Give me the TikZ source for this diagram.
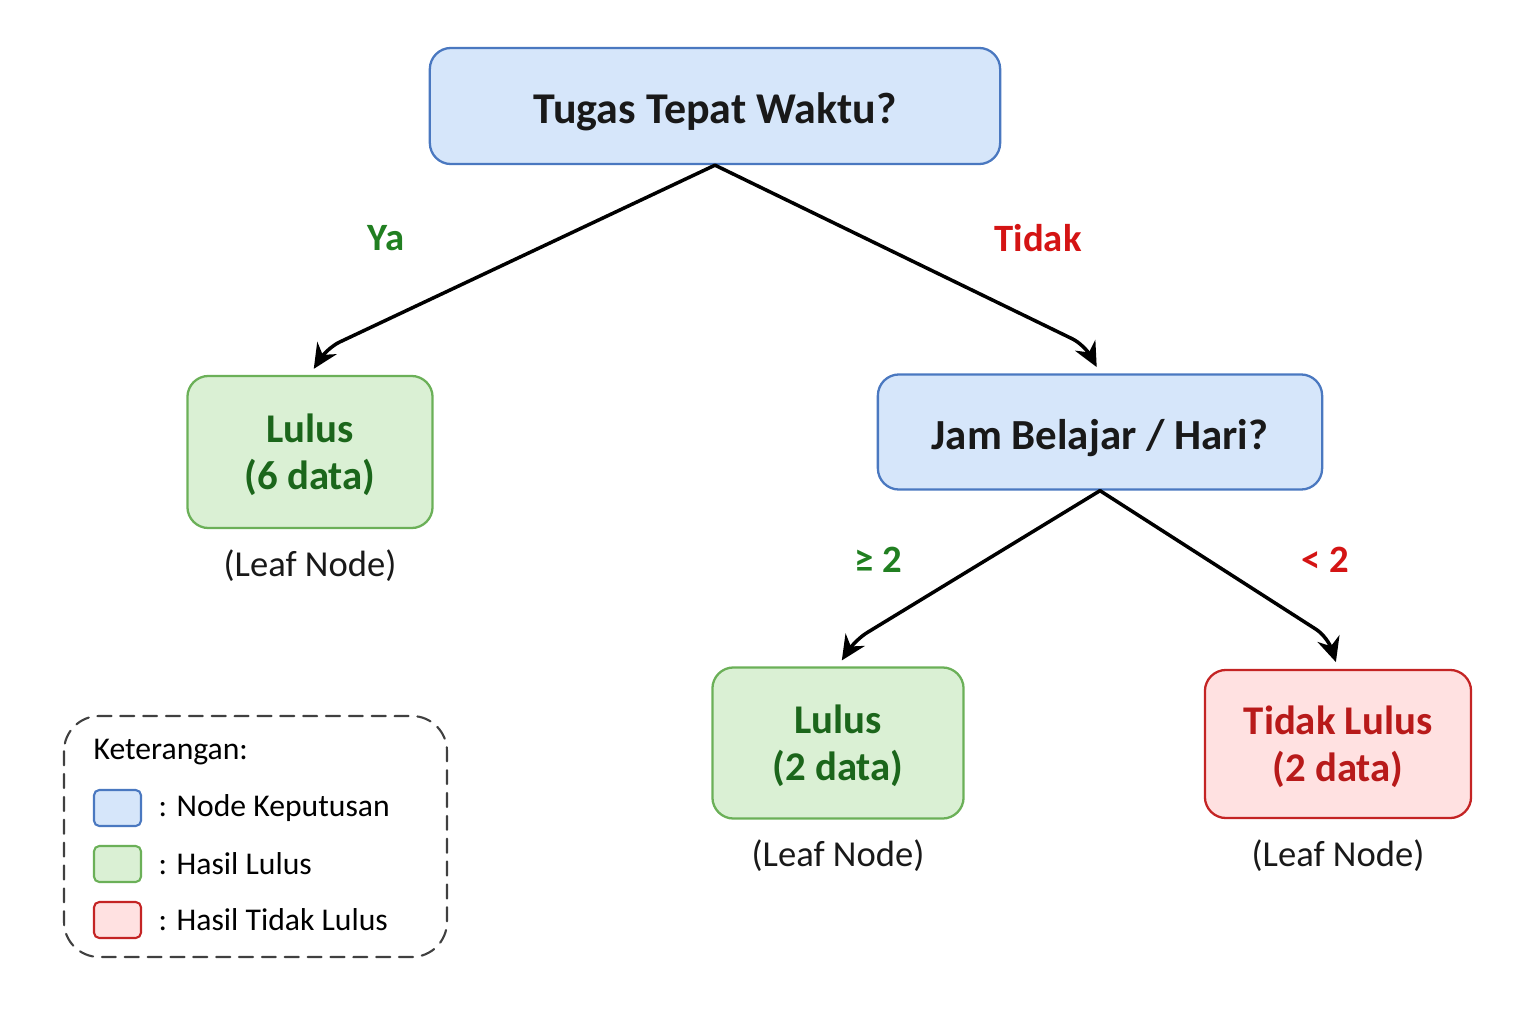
\documentclass[tikz,border=0pt]{standalone}
\usepackage{fontspec}
\setmainfont{Carlito}
\usetikzlibrary{arrows.meta}
\definecolor{blueF}{HTML}{D6E6FA}
\definecolor{blueD}{HTML}{4A78C0}
\definecolor{greenF}{HTML}{DAF0D4}
\definecolor{greenD}{HTML}{6BB058}
\definecolor{redF}{HTML}{FFE1E1}
\definecolor{redD}{HTML}{C42424}
\definecolor{greenT}{HTML}{1B661B}
\definecolor{redT}{HTML}{B81A1A}
\definecolor{yaC}{HTML}{217F21}
\definecolor{tidakC}{HTML}{D41414}
\tikzset{
  box/.style={rounded corners=6pt, line width=0.65pt, align=center, inner sep=0pt},
  decide/.style={box, fill=blueF, draw=blueD, font=\bfseries\fontsize{12.5}{14}\selectfont, text=black!90,
    execute at begin node={\rule{0pt}{12.2pt}}},
  pass/.style={box, fill=greenF, draw=greenD, text=greenT, font=\bfseries\fontsize{11.6}{13.4}\selectfont,
    text depth=0pt},
  fail/.style={pass, fill=redF, draw=redD, text=redT},
  leaf/.style={font=\fontsize{10.4}{12}\selectfont, text=black!90},
  branch/.style={font=\bfseries\fontsize{11}{13}\selectfont},
  edge/.style={->, line width=1pt, rounded corners=4pt, shorten >=2pt}
}
\begin{document}
\begin{tikzpicture}[x=0.01cm, y=-0.01cm, >={Stealth[length=7pt,width=6.5pt]}, line join=round, line cap=round]
  \useasboundingbox (0,0) rectangle (1536,1024);
  % tree
  \node[decide, minimum width=5.7cm, minimum height=1.16cm] (tugas) at (715,106) {Tugas Tepat Waktu?};
  \node[pass, minimum width=2.45cm, minimum height=1.52cm] (lulusA) at (310,452) {Lulus\\(6 data)};
  \node[decide, minimum width=4.44cm, minimum height=1.15cm, font=\bfseries\fontsize{12.2}{14}\selectfont] (jam) at (1100,432) {Jam Belajar / Hari?};
  \node[pass, minimum width=2.51cm, minimum height=1.51cm] (lulusB) at (838,743) {Lulus\\(2 data)};
  \node[fail, minimum width=2.66cm, minimum height=1.48cm] (tidak) at (1338,744) {Tidak Lulus\\(2 data)};
  \node[leaf] (leafA) at (310,566) {(Leaf Node)};
  \node[leaf] (leafB) at (838,856) {(Leaf Node)};
  \node[leaf] (leafC) at (1338,856) {(Leaf Node)};
  \draw[edge] (tugas.south) -- (327,348) -- (lulusA.north);
  \draw[edge] (tugas.south) -- (1085,345) -- (jam.north);
  \draw[edge] (jam.south) -- (855,640) -- (lulusB.north);
  \draw[edge] (jam.south) -- (1328,637) -- (tidak.north);
  \node[branch, text=yaC] (ya) at (386,238) {Ya};
  \node[branch, text=tidakC] (tdk) at (1038,238) {Tidak};
  \node[branch, text=yaC] (ge) at (878,560) {≥ 2};
  \node[branch, text=tidakC] (lt) at (1325,560) {< 2};
  % legend
  \draw[dash pattern=on 4pt off 2.5pt, line width=0.6pt, draw=black!75, rounded corners=10pt] (64,716) rectangle (447,957);
  \node[anchor=west, inner sep=0pt, font=\fontsize{9}{11}\selectfont] (ket) at (93,752) {Keterangan:};
  \foreach \y/\f/\d/\t [count=\i] in {808/blueF/blueD/Node Keputusan, 864/greenF/greenD/Hasil Lulus, 920/redF/redD/Hasil Tidak Lulus}{
    \draw[fill=\f, draw=\d, line width=0.6pt, rounded corners=1.5pt] (94,{\y-18}) rectangle (141,{\y+18});
    \node[anchor=west, inner sep=0pt, font=\fontsize{9}{11}\selectfont] (leg\i) at (158,\y) {: \t};
  }
\end{tikzpicture}
\end{document}
